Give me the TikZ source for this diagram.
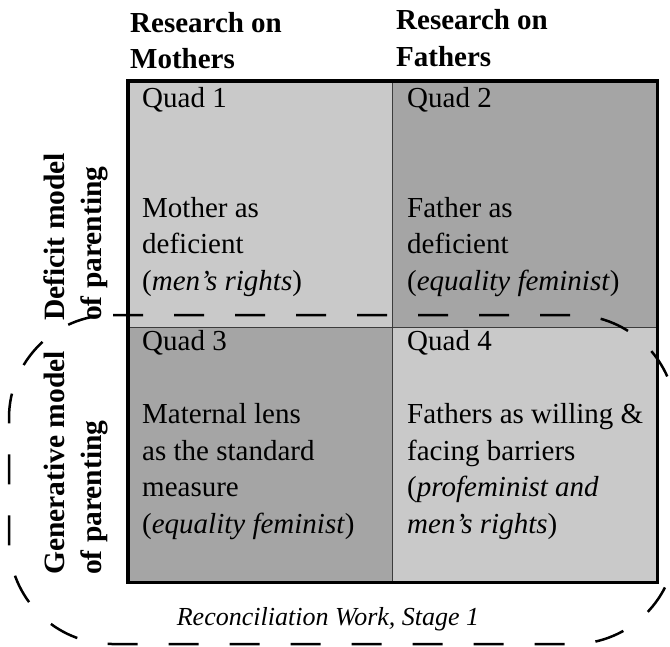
\documentclass[tikz,border=0pt]{standalone}
\usepackage{fontspec}
\setmainfont{Liberation Serif}
\definecolor{qlight}{RGB}{201,201,201}
\definecolor{qdark}{RGB}{165,165,165}
\definecolor{qline}{RGB}{60,60,60}
\tikzset{
  body/.style={anchor=base west, inner sep=0pt, font=\fontsize{29}{35}\selectfont},
  head/.style={anchor=base west, inner sep=0pt, font=\bfseries\fontsize{29}{35}\selectfont},
  side/.style={anchor=base west, inner sep=0pt, rotate=90, font=\bfseries\fontsize{29.5}{35}\selectfont},
  quad/.style={draw=qline, line width=1.2pt, anchor=north west, inner sep=0pt, minimum width=264pt},
  frame/.style={draw=black, line width=3.2pt},
  recon/.style={draw=black, line width=2.5pt, dash pattern=on 30pt off 31pt, rounded corners=103pt},
}
\begin{document}
\begin{tikzpicture}[x=1pt,y=-1pt]
\useasboundingbox (0,0) rectangle (670,646);
% quadrants
\node[quad, fill=qlight, minimum height=246pt] (Q1) at (128,81) {};
\node[quad, fill=qdark,  minimum height=246pt] (Q2) at (392,81) {};
\node[quad, fill=qdark,  minimum height=254pt] (Q3) at (128,327) {};
\node[quad, fill=qlight, minimum height=254pt] (Q4) at (392,327) {};
\draw[frame] (Q1.north west) rectangle (Q4.south east);
% column headers
\node[head] (hm1) at (130,32) {Research on};
\node[head] (hm2) at (130,68) {Mothers};
\node[head] (hf1) at (396,29) {Research on};
\node[head] (hf2) at (396,66) {Fathers};
% row labels
\node[side] (dm1) at (64,321) {Deficit model};
\node[side] (dm2) at (101,321) {of parenting};
\node[side] (gm1) at (64,575) {Generative model};
\node[side] (gm2) at (101,575) {of parenting};
% quad 1
\node[body] (q1t) at (142,107) {Quad 1};
\node[body] (q1a) at (142,217) {Mother as};
\node[body] (q1b) at (142,253) {deficient};
\node[body] (q1c) at (142,290) {(\textit{men’s rights})};
% quad 2
\node[body] (q2t) at (407,107) {Quad 2};
\node[body] (q2a) at (407,217) {Father as};
\node[body] (q2b) at (407,253) {deficient};
\node[body] (q2c) at (407,290) {(\textit{equality feminist})};
% quad 3
\node[body] (q3t) at (142,350) {Quad 3};
\node[body] (q3a) at (142,423) {Maternal lens};
\node[body] (q3b) at (142,460) {as the standard};
\node[body] (q3c) at (142,496) {measure};
\node[body] (q3d) at (142,533) {(\textit{equality feminist})};
% quad 4
\node[body] (q4t) at (407,350) {Quad 4};
\node[body] (q4a) at (407,423) {Fathers as willing \&};
\node[body] (q4b) at (407,460) {facing barriers};
\node[body] (q4c) at (407,496) {(\textit{profeminist and}};
\node[body] (q4d) at (407,533) {\textit{men’s rights})};
% reconciliation boundary
\coordinate (rs) at (113,315);
\draw[recon] (rs) -- (676,315) -- (676,644) -- (9,644) -- (9,315) -- (rs);
\node[anchor=base, inner sep=0pt, font=\itshape\fontsize{26}{30}\selectfont] (rw) at (328,625) {Reconciliation Work, Stage 1};
\end{tikzpicture}
\end{document}
